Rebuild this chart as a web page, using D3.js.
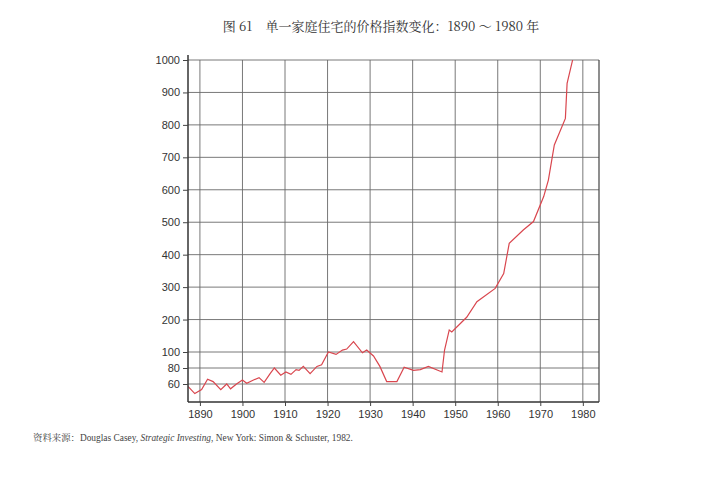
<!DOCTYPE html>
<html>
<head>
<meta charset="utf-8">
<script src="https://cdn.jsdelivr.net/npm/d3@7"></script>
<style>
  body { margin: 0; background: #fff; }
  svg { display: block; }
</style>
</head>
<body>
<script>
// values (index, 1890-1980)
var years = [1887.2, 1888.8, 1890.4, 1891.8, 1893.1, 1894.9, 1896.3, 1897.2, 1898.6, 1900.0,
             1901.0, 1902.6, 1903.9, 1905.1, 1906.5, 1907.5, 1909.0, 1910.2, 1911.4, 1912.6,
             1913.3, 1914.3, 1915.9, 1917.5, 1918.6, 1920.2, 1922.0, 1923.5, 1924.5, 1926.1,
             1928.2, 1929.2, 1930.8, 1932.3, 1933.9, 1936.3, 1938.0, 1940.2, 1941.8, 1943.7,
             1946.9, 1947.5, 1948.6, 1949.2, 1952.7, 1955.1, 1959.4, 1961.4, 1962.7, 1966.0,
             1968.4, 1970.8, 1971.9, 1973.3, 1975.9, 1976.3, 1977.6, 1978.0];
var index = [57, 48, 53, 66, 63, 53, 60, 54, 60, 65,
             61, 65, 68, 62, 73, 80, 71, 75, 72, 78,
             77, 82, 73, 82, 84, 100, 97, 106, 109, 132,
             99, 106, 95, 82, 63, 63, 81, 77, 78, 82,
             75, 106, 168, 162, 207, 255, 296, 342, 435, 476,
             502, 579, 630, 738, 820, 928, 1000, 1070];

var yTicks = [60, 80, 100, 200, 300, 400, 500, 600, 700, 800, 900, 1000];
var xTicks = [1890, 1900, 1910, 1920, 1930, 1940, 1950, 1960, 1970, 1980];
var title = "图 61　单一家庭住宅的价格指数变化：1890 ～ 1980 年";

var data = years.map(function(y, i) { return {year: y, value: index[i]}; });

var W = 721, H = 478;
var margin = {top: 60, right: 122, bottom: 76, left: 188},
    width = W - margin.left - margin.right,
    height = H - margin.top - margin.bottom;

var x = d3.scaleLinear().domain([1887.2, 1983.8]).range([0, width]);
// the printed axis is stretched below 100
var y = d3.scaleLinear().domain([37.5, 100, 1000]).range([height, height - 50, 0]);

var svg = d3.select("body").append("svg")
    .attr("width", W)
    .attr("height", H);

svg.append("text")
    .attr("x", 381)
    .attr("y", 31)
    .attr("text-anchor", "middle")
    .style("font-family", "'Noto Serif CJK SC', 'Liberation Serif', 'Noto Sans CJK SC', serif")
    .style("font-size", "13px")
    .style("fill", "#333")
    .text(title);

var g = svg.append("g")
    .attr("transform", "translate(" + margin.left + "," + margin.top + ")");

// grid
g.selectAll(".hgrid").data(yTicks).enter().append("line")
    .attr("x1", 0).attr("x2", width)
    .attr("y1", function(d) { return y(d); })
    .attr("y2", function(d) { return y(d); })
    .style("stroke", "#6a6a6a").style("stroke-width", 0.9);

g.selectAll(".vgrid").data(xTicks).enter().append("line")
    .attr("x1", function(d) { return x(d); })
    .attr("x2", function(d) { return x(d); })
    .attr("y1", 0).attr("y2", height)
    .style("stroke", "#6a6a6a").style("stroke-width", 0.9);

// right border
g.append("line")
    .attr("x1", width).attr("x2", width)
    .attr("y1", 0).attr("y2", height)
    .style("stroke", "#444").style("stroke-width", 1.2);

g.append("clipPath").attr("id", "clip")
  .append("rect").attr("width", width).attr("height", height);

var line = d3.line()
    .x(function(d) { return x(d.year); })
    .y(function(d) { return y(d.value); });

g.append("path")
    .datum(data)
    .attr("clip-path", "url(#clip)")
    .attr("d", line)
    .style("fill", "none")
    .style("stroke", "#d9464e")
    .style("stroke-width", 1.2);

// y axis
var yAxis = g.append("g")
    .call(d3.axisLeft(y).tickValues(yTicks).tickFormat(d3.format("d")).tickSize(5).tickPadding(3));
yAxis.select(".domain").attr("d", "M0,-5V" + height).style("stroke", "#333").style("stroke-width", 1.5);

// x axis
var xAxis = g.append("g")
    .attr("transform", "translate(0," + height + ")")
    .call(d3.axisBottom(x).tickValues(xTicks).tickFormat(d3.format("d")).tickSize(4).tickPadding(4));
xAxis.select(".domain").attr("d", "M0,0H" + width).style("stroke", "#333").style("stroke-width", 1.5);

svg.selectAll(".tick text")
    .style("font-family", "'Liberation Sans', Arial, sans-serif")
    .style("font-size", "11px")
    .style("fill", "#333");
svg.selectAll(".tick line").style("stroke", "#444");

// source note
var note = svg.append("text")
    .attr("x", 33)
    .attr("y", 441)
    .style("font-family", "'Liberation Serif', 'Noto Serif CJK SC', serif")
    .style("font-size", "9.4px")
    .style("fill", "#444");
note.append("tspan").style("font-family", "'Noto Serif CJK SC', 'Noto Sans CJK SC', serif").text("资料来源：");
note.append("tspan").text("Douglas Casey, ");
note.append("tspan").style("font-style", "italic").text("Strategic Investing");
note.append("tspan").text(", New York: Simon & Schuster, 1982.");
</script>
</body>
</html>
